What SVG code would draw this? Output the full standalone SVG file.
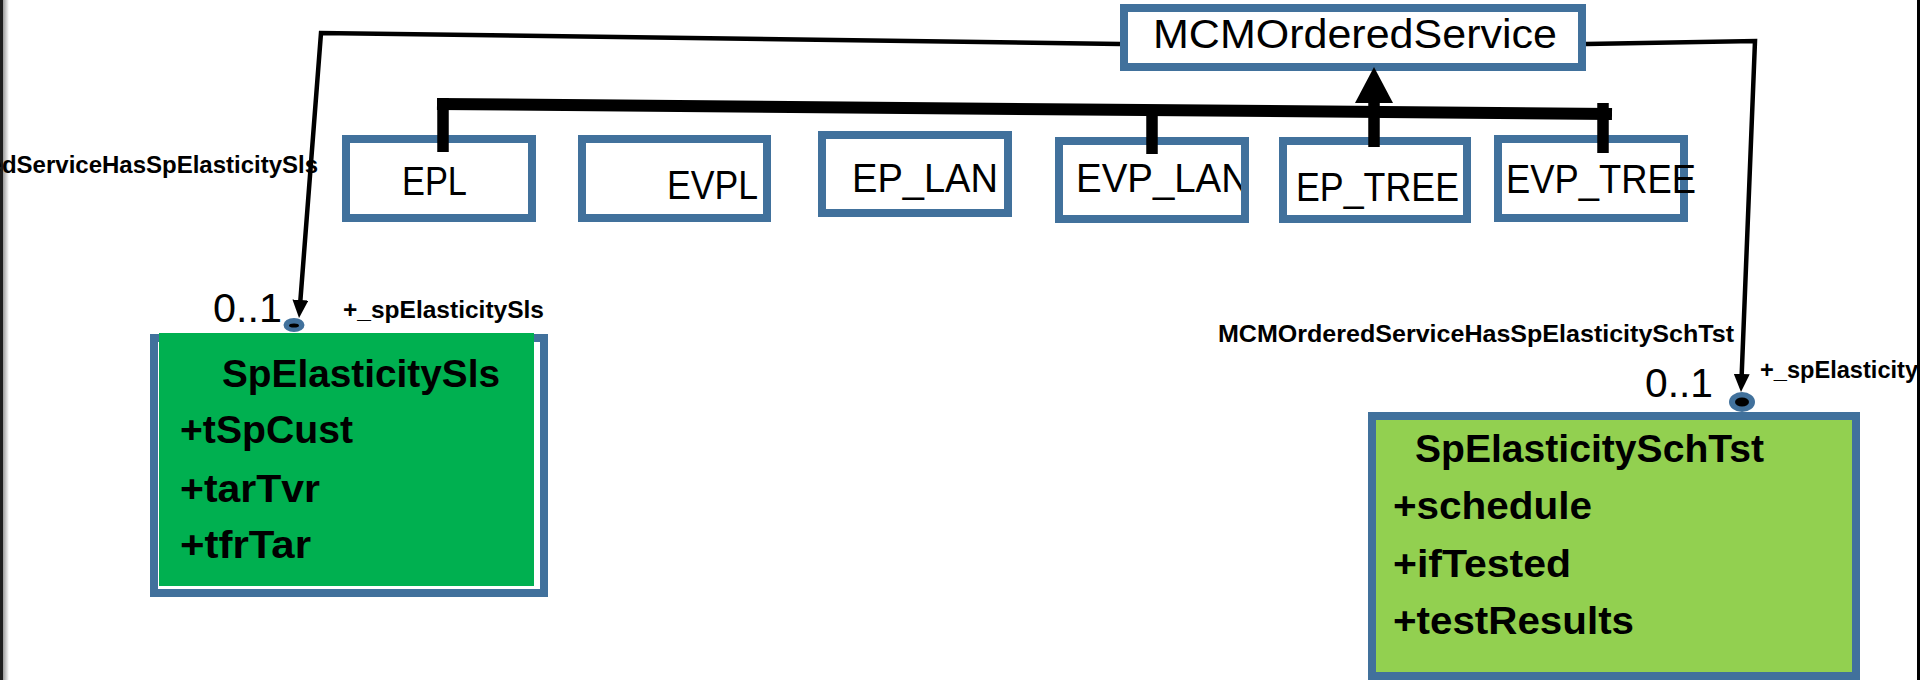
<svg xmlns="http://www.w3.org/2000/svg" width="1920" height="680" viewBox="0 0 1920 680">
<style>
  .box { fill: #ffffff; stroke: #41719c; stroke-width: 8; }
  .t { font-family: 'Liberation Sans', Arial, sans-serif; font-size: 41px; fill: #000; }
  .b { font-family: 'Liberation Sans', Arial, sans-serif; font-size: 39px; font-weight: bold; fill: #000; }
  .s { font-family: 'Liberation Sans', Arial, sans-serif; font-size: 24px; font-weight: bold; fill: #000; }
  .assoc { fill: none; stroke: #000; stroke-width: 4.5; stroke-linejoin: miter; }
  .gen { fill: none; stroke: #000; stroke-width: 12; }
  .stub { stroke: #000; stroke-width: 11.5; }
  .endring { fill: #41719c; }
</style>
<defs>
  <marker id="arrow" viewBox="0 0 18 16" refX="8" refY="8" markerWidth="18" markerHeight="16" markerUnits="userSpaceOnUse" orient="auto">
    <path d="M0,0 L18,8 L0,16 z" fill="#000"/>
  </marker>
  <linearGradient id="edge" x1="0" y1="0" x2="1" y2="0">
    <stop offset="0" stop-color="#9a9a9a"/>
    <stop offset="1" stop-color="#ffffff"/>
  </linearGradient>
  <clipPath id="clipEvpLan">
    <rect x="1060" y="141" width="181" height="80"/>
  </clipPath>
</defs>

<rect x="0" y="0" width="1920" height="680" fill="#ffffff"/>
<rect x="0" y="0" width="3" height="680" fill="#1e1e1e"/>
<rect x="3" y="0" width="6" height="680" fill="url(#edge)"/>

<g id="MCMOrderedService">
  <rect class="box" x="1124" y="8" width="458" height="59"/>
  <text class="t" x="1153" y="48" textLength="404" lengthAdjust="spacingAndGlyphs">MCMOrderedService</text>
</g>

<g id="EPL">
  <rect class="box" x="346" y="139" width="186" height="79"/>
  <text class="t" x="402" y="195" textLength="65" lengthAdjust="spacingAndGlyphs">EPL</text>
</g>

<g id="EVPL">
  <rect class="box" x="582" y="139" width="185" height="79"/>
  <text class="t" x="667" y="199" textLength="91" lengthAdjust="spacingAndGlyphs">EVPL</text>
</g>

<g id="EP_LAN">
  <rect class="box" x="822" y="135" width="186" height="78"/>
  <text class="t" x="852" y="192" textLength="146" lengthAdjust="spacingAndGlyphs">EP_LAN</text>
</g>

<g id="EVP_LAN">
  <rect class="box" x="1059" y="141" width="186" height="78"/>
  <text class="t" x="1076" y="192" textLength="173" lengthAdjust="spacingAndGlyphs" clip-path="url(#clipEvpLan)">EVP_LAN</text>
</g>

<g id="EP_TREE">
  <rect class="box" x="1283" y="141" width="184" height="78"/>
  <text class="t" x="1296" y="201" textLength="163" lengthAdjust="spacingAndGlyphs">EP_TREE</text>
</g>

<g id="EVP_TREE">
  <rect class="box" x="1498" y="139" width="186" height="79"/>
  <text class="t" x="1506" y="193" textLength="190" lengthAdjust="spacingAndGlyphs">EVP_TREE</text>
</g>

<g id="SpElasticitySls">
  <rect class="box" x="154" y="338" width="390" height="255"/>
  <rect x="159" y="333" width="375" height="253" fill="#00b050"/>
  <text class="b" x="222" y="387" textLength="278" lengthAdjust="spacingAndGlyphs">SpElasticitySls</text>
  <text class="b" x="180" y="443" textLength="173" lengthAdjust="spacingAndGlyphs">+tSpCust</text>
  <text class="b" x="180" y="502" textLength="140" lengthAdjust="spacingAndGlyphs">+tarTvr</text>
  <text class="b" x="180" y="558" textLength="131" lengthAdjust="spacingAndGlyphs">+tfrTar</text>
</g>

<g id="SpElasticitySchTst">
  <rect class="box" x="1372" y="416" width="484" height="260" style="fill:#92d050"/>
  <text class="b" x="1415" y="462" textLength="349" lengthAdjust="spacingAndGlyphs">SpElasticitySchTst</text>
  <text class="b" x="1393" y="519" textLength="199" lengthAdjust="spacingAndGlyphs">+schedule</text>
  <text class="b" x="1393" y="577" textLength="178" lengthAdjust="spacingAndGlyphs">+ifTested</text>
  <text class="b" x="1393" y="634" textLength="241" lengthAdjust="spacingAndGlyphs">+testResults</text>
</g>

<g id="connectors">
  <!-- generalization tree -->
  <line class="gen" x1="437" y1="104" x2="1612" y2="114"/>
  <line class="stub" x1="443" y1="98" x2="443" y2="152"/>
  <line class="stub" x1="1152" y1="108" x2="1152" y2="154"/>
  <line class="stub" x1="1374" y1="147" x2="1374" y2="102"/>
  <line class="stub" x1="1603" y1="103" x2="1603" y2="153"/>
  <polygon points="1374,67 1355,103 1393,103" fill="#000"/>

  <!-- association to SpElasticitySls -->
  <path class="assoc" d="M1120,44 L321,33 L299.8,308" marker-end="url(#arrow)"/>
  <ellipse class="endring" cx="294" cy="325" rx="10.5" ry="7"/>
  <ellipse cx="294" cy="325.5" rx="5" ry="2" fill="#000"/>
  <text class="s" x="-134" y="173" textLength="452" lengthAdjust="spacingAndGlyphs">MCMOrderedServiceHasSpElasticitySls</text>
  <text class="t" x="213" y="322" textLength="69" lengthAdjust="spacingAndGlyphs">0..1</text>
  <text class="s" x="343" y="318" textLength="201" lengthAdjust="spacingAndGlyphs">+_spElasticitySls</text>

  <!-- association to SpElasticitySchTst -->
  <path class="assoc" d="M1586,44 L1755,41 L1741.4,382" marker-end="url(#arrow)"/>
  <ellipse class="endring" cx="1742" cy="402" rx="13" ry="10"/>
  <ellipse cx="1742" cy="402" rx="7" ry="4.5" fill="#000"/>
  <text class="s" x="1218" y="342" textLength="516" lengthAdjust="spacingAndGlyphs">MCMOrderedServiceHasSpElasticitySchTst</text>
  <text class="t" x="1645" y="397" textLength="68" lengthAdjust="spacingAndGlyphs">0..1</text>
  <text class="s" x="1760" y="378" textLength="235" lengthAdjust="spacingAndGlyphs">+_spElasticitySchTst</text>
</g>

<rect x="1917" y="0" width="3" height="680" fill="#000"/>
</svg>
